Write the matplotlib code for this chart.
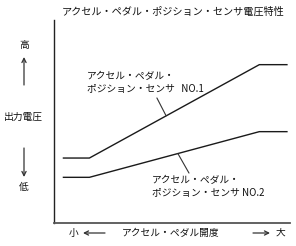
import matplotlib
matplotlib.use("Agg")
import matplotlib.pyplot as plt

plt.rcParams['font.family'] = ['Noto Sans CJK JP', 'DejaVu Sans']

W, H = 296, 246
pedal = [4, 15, 87, 98.7]
sensor1 = [32, 32, 78, 78]
sensor2 = [22.5, 22.5, 45, 45]

title = "アクセル・ペダル・ポジション・センサ電圧特性"
ylabel = "出力電圧"
xlabel = "アクセル・ペダル開度"
label1 = ["アクセル・ペダル・", "ポジション・センサ   NO.1"]
label2 = ["アクセル・ペダル・", "ポジション・センサ NO.2"]

fig = plt.figure(figsize=(W / 100, H / 100), dpi=100)
ax = fig.add_axes([54 / W, 1 - 223 / H, 236 / W, 203 / H])
ax.set_xlim(0, 100)
ax.set_ylim(0, 100)
for s in ['top', 'right']:
    ax.spines[s].set_visible(False)
ax.spines['left'].set_color('#222222')
ax.spines['left'].set_linewidth(1.0)
ax.spines['bottom'].set_color('#555555')
ax.spines['bottom'].set_linewidth(1.3)
ax.set_xticks([])
ax.set_yticks([])

ax.plot(pedal, sensor1, color='#1a1a1a', lw=1.0)
ax.plot(pedal, sensor2, color='#1a1a1a', lw=1.0)

# leader lines
ax.annotate('', xy=(47.5, 52.8), xytext=(43.6, 61.6),
            arrowprops=dict(arrowstyle='-', color='#333333', lw=0.8, shrinkA=0, shrinkB=0))
ax.annotate('', xy=(52.5, 34.2), xytext=(57.2, 24.6),
            arrowprops=dict(arrowstyle='-', color='#333333', lw=0.8, shrinkA=0, shrinkB=0))

def ftxt(x, y, s, ha='left', size=7):
    fig.text(x / W, 1 - y / H, s, ha=ha, va='center', fontsize=size, color='#111111')

ftxt(62, 12, title, size=7.3)
ftxt(87, 76, label1[0])
ftxt(87, 89, label1[1])
ftxt(152, 180, label2[0])
ftxt(152, 193, label2[1])

ftxt(24, 45, "高", ha='center')
ftxt(23, 117, ylabel, ha='center')
ftxt(24, 187, "低", ha='center')
ftxt(74, 233, "小", ha='center')
ftxt(122, 233, xlabel)
ftxt(280, 233, "大", ha='center')

def farrow(x0, y0, x1, y1):
    fig.add_artist(matplotlib.patches.FancyArrowPatch(
        (x0 / W, 1 - y0 / H), (x1 / W, 1 - y1 / H), transform=fig.transFigure,
        arrowstyle='->,head_length=3,head_width=1.5', color='#333333', lw=0.9,
        shrinkA=0, shrinkB=0))

farrow(24, 85, 24, 57)
farrow(24, 148, 24, 177)
farrow(105, 233, 83, 233)
farrow(253, 233, 270, 233)

fig.savefig("out.png", dpi=100)
